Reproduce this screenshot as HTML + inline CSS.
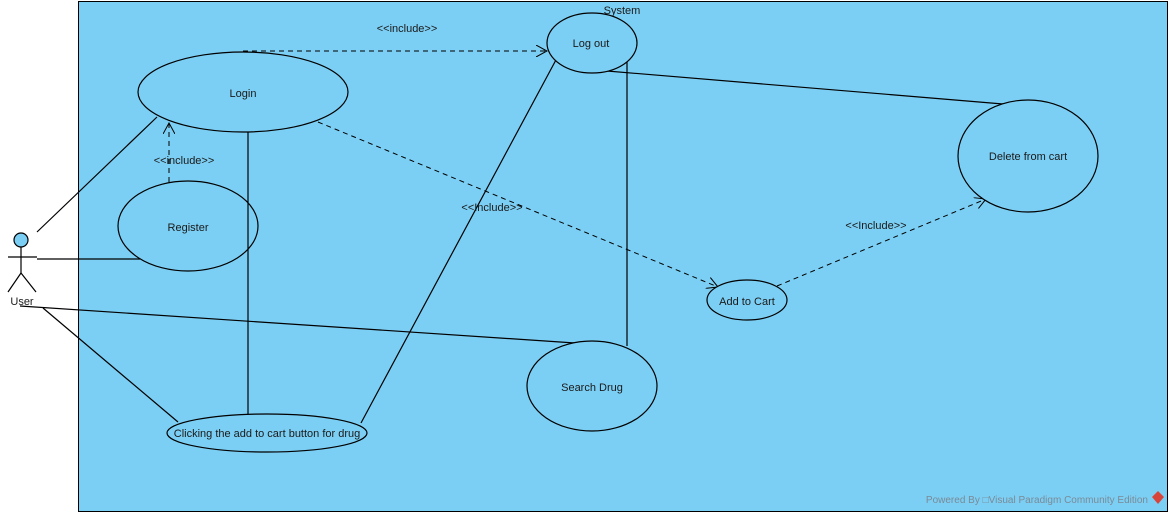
<!DOCTYPE html>
<html><head><meta charset="utf-8"><style>
html,body{margin:0;padding:0;background:#fff;}
svg{display:block;}
text{font-family:"Liberation Sans",Arial,sans-serif;font-size:11px;fill:#1a1a1a;}
</style></head><body>
<svg width="1171" height="516" viewBox="0 0 1171 516" xmlns="http://www.w3.org/2000/svg">
<defs>
<marker id="ah" viewBox="0 0 12 12" refX="11" refY="6" markerWidth="12" markerHeight="12" markerUnits="userSpaceOnUse" orient="auto">
<path d="M0,0 L11,6 L0,12" fill="none" stroke="#000" stroke-width="1"/>
</marker>
</defs>
<rect x="78.5" y="1.5" width="1089" height="510" fill="#7ccff4" stroke="#000" stroke-width="1"/>
<text x="622" y="14" text-anchor="middle">System</text>
<g stroke="#000" stroke-width="1.2" fill="none">
<line x1="37" y1="232" x2="157" y2="117"/>
<line x1="37" y1="259" x2="140" y2="259"/>
<line x1="20" y1="306" x2="575" y2="343"/>
<line x1="43" y1="308" x2="178" y2="422"/>
<line x1="361" y1="423" x2="557" y2="58"/>
<line x1="627" y1="62" x2="627" y2="346"/>
<line x1="607" y1="71" x2="1003" y2="104"/>
</g>
<g stroke="#000" stroke-width="1" fill="none" stroke-dasharray="5,4">
<line x1="243" y1="51" x2="547" y2="51" marker-end="url(#ah)"/>
<line x1="169" y1="182" x2="169" y2="123" marker-end="url(#ah)"/>
<line x1="318" y1="122" x2="718" y2="287" marker-end="url(#ah)"/>
<line x1="777" y1="286" x2="986" y2="199" marker-end="url(#ah)"/>
</g>
<text x="407" y="32" text-anchor="middle">&lt;&lt;include&gt;&gt;</text>
<text x="184" y="164" text-anchor="middle">&lt;&lt;include&gt;&gt;</text>
<text x="492" y="211" text-anchor="middle">&lt;&lt;Include&gt;&gt;</text>
<text x="876" y="229" text-anchor="middle">&lt;&lt;Include&gt;&gt;</text>
<g fill="#7ccff4" stroke="#000" stroke-width="1.2">
<ellipse cx="243" cy="92" rx="105" ry="40"/>
<ellipse cx="188" cy="226" rx="70" ry="45"/>
<ellipse cx="592" cy="43" rx="45" ry="30"/>
<ellipse cx="1028" cy="156" rx="70" ry="56"/>
<ellipse cx="747" cy="300" rx="40" ry="20"/>
<ellipse cx="592" cy="386" rx="65" ry="45"/>
<ellipse cx="267" cy="433" rx="100" ry="19"/>
</g>
<line x1="248" y1="132" x2="248" y2="414" stroke="#000" stroke-width="1.2"/>
<text x="243" y="97" text-anchor="middle">Login</text>
<text x="188" y="231" text-anchor="middle">Register</text>
<text x="591" y="47" text-anchor="middle">Log out</text>
<text x="1028" y="160" text-anchor="middle">Delete from cart</text>
<text x="747" y="305" text-anchor="middle">Add to Cart</text>
<text x="592" y="391" text-anchor="middle">Search Drug</text>
<text x="267" y="437" text-anchor="middle">Clicking the add to cart button for drug</text>
<g stroke="#000" stroke-width="1.2" fill="none">
<circle cx="21" cy="240" r="7" fill="#7ccff4"/>
<line x1="21" y1="247" x2="21" y2="273"/>
<line x1="8" y1="257" x2="37" y2="257"/>
<line x1="21" y1="273" x2="8" y2="292"/>
<line x1="21" y1="273" x2="36" y2="292"/>
</g>
<text x="22" y="305" text-anchor="middle">User</text>
<text x="1148" y="503" text-anchor="end" style="font-size:10px;fill:#7a8a96">Powered By □Visual Paradigm Community Edition</text>
<path d="M1158,491 L1164,497 L1158,504 L1152,497 Z" fill="#d9443a"/>
</svg>
</body></html>
